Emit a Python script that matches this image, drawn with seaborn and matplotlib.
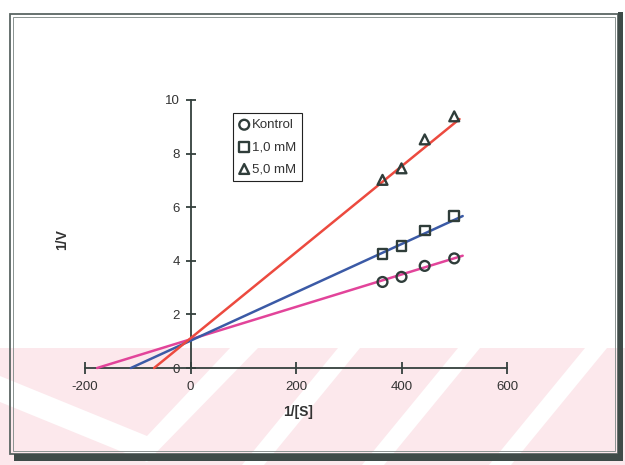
import numpy as np
import pandas as pd
import matplotlib
matplotlib.use("Agg")
import matplotlib.pyplot as plt
import seaborn as sns
from matplotlib.patches import Polygon, Rectangle

# ---------------- data ----------------
inv_s = [364, 400, 444, 500]                 # 1/[S]
inv_v_kontrol = [3.21, 3.40, 3.81, 4.09]     # 1/V, Kontrol
inv_v_1mM = [4.26, 4.54, 5.13, 5.67]         # 1/V, 1,0 mM
inv_v_5mM = [7.02, 7.45, 8.53, 9.39]         # 1/V, 5,0 mM
groups = ["Kontrol", "1,0 mM", "5,0 mM"]

# regression lines, endpoints as drawn in the picture
fit_x_kontrol = [-177, 516]
fit_y_kontrol = [0.0, 4.19]
fit_x_1mM = [-113, 516]
fit_y_1mM = [0.0, 5.67]
fit_x_5mM = [-69, 510]
fit_y_5mM = [0.0, 9.29]

x_ticks = [-200, 0, 200, 400, 600]
y_ticks = [0, 2, 4, 6, 8, 10]
x_label = "1/[S]"
y_label = "1/V"

# ---------------- style ----------------
sns.set_style("white")
plt.rcParams["font.family"] = ["Liberation Sans", "DejaVu Sans"]

W, H = 625, 465
AX_COL = "#34403d"
TXT_COL = "#333333"
MK_COL = "#2f3d3a"
line_colors = ["#e2449a", "#3b5aa6", "#ec4a3f"]
markers = ["o", "s", "^"]

def fp(x, y):
    return (x / W, 1 - y / H)

fig = plt.figure(figsize=(W / 100, H / 100), dpi=100)
fig.patch.set_facecolor("white")

# scanned-page background: pale pink band with white diagonal stripes
pink = Polygon([fp(0, 348), fp(W, 348), fp(W, H), fp(0, H)], closed=True,
               transform=fig.transFigure, facecolor="#fce8ec", edgecolor="none", zorder=-3)
fig.add_artist(pink)
white_polys = [
    [(0, 376), (147, 436), (230, 348), (258, 348), (147, 462), (0, 402)],
]
for a in [338, 458, 585]:
    white_polys.append([(a, 348), (a + 22, 348), (a - 74, 465), (a - 96, 465)])
for poly in white_polys:
    fig.add_artist(Polygon([fp(*p) for p in poly], closed=True, transform=fig.transFigure,
                           facecolor="white", edgecolor="none", zorder=-2))

# page frame
fig.add_artist(Rectangle(fp(10, 454), 608 / W, 440 / H, fill=False, edgecolor="#5b6663",
                         linewidth=1.3, transform=fig.transFigure, zorder=5))
fig.add_artist(Rectangle(fp(13, 451), 602 / W, 434 / H, fill=False, edgecolor="#8a9391",
                         linewidth=0.7, transform=fig.transFigure, zorder=5))
fig.add_artist(Polygon([fp(14, 454), fp(623, 454), fp(623, 461), fp(14, 461)], closed=True,
                       transform=fig.transFigure, facecolor="#3f4b48", edgecolor="none", zorder=5))
fig.add_artist(Polygon([fp(618, 12), fp(623, 12), fp(623, 461), fp(618, 461)], closed=True,
                       transform=fig.transFigure, facecolor="#3f4b48", edgecolor="none", zorder=5))

# axes: x from -200..600 at px 85..507, y 0..10 at px 368..100
ax = fig.add_axes([85 / W, (H - 368) / H, 422 / W, 268 / H])
ax.patch.set_alpha(0)

fits = [(fit_x_kontrol, fit_y_kontrol), (fit_x_1mM, fit_y_1mM), (fit_x_5mM, fit_y_5mM)]
vals = [inv_v_kontrol, inv_v_1mM, inv_v_5mM]

for (fx, fy), col in zip(fits, line_colors):
    sns.lineplot(x=fx, y=fy, color=col, linewidth=1.8, ax=ax, legend=False)
for ln in ax.lines:
    ln.set_clip_on(False)
    ln.set_zorder(2)

for g, v, m in zip(groups, vals, markers):
    sns.scatterplot(x=inv_s, y=v, marker=m, s=50, facecolor="none", edgecolor=MK_COL,
                    linewidth=1.7, ax=ax, label=g, zorder=3, clip_on=False)
for coll in ax.collections:
    coll.set_facecolor("none")
    coll.set_edgecolor(MK_COL)

ax.set_xlim(-200, 600)
ax.set_ylim(0, 10)
ax.set_xticks(x_ticks)
ax.set_yticks(y_ticks)
ax.set_xticklabels([str(t) for t in x_ticks])
ax.set_yticklabels([str(t) for t in y_ticks])

for s in ["top", "right"]:
    ax.spines[s].set_visible(False)
ax.spines["left"].set_position(("data", 0))
ax.spines["bottom"].set_position(("data", 0))
for s in ["left", "bottom"]:
    ax.spines[s].set_color(AX_COL)
    ax.spines[s].set_linewidth(1.3)
    ax.spines[s].set_zorder(1)

ax.tick_params(axis="x", bottom=True, direction="inout", length=9, width=1.3, pad=5,
               labelsize=9.5, colors=AX_COL, labelcolor=TXT_COL)
ax.tick_params(axis="y", left=True, direction="inout", length=7, width=1.3, pad=4,
               labelsize=9.5, colors=AX_COL, labelcolor=TXT_COL)

ax.set_xlabel(x_label, fontsize=10, fontweight="bold", color=TXT_COL)
ax.set_ylabel(y_label, fontsize=10, fontweight="bold", color=TXT_COL)
ax.xaxis.set_label_coords((298 - 85) / 422, (368 - 405) / 268)
ax.yaxis.set_label_coords((69 - 85) / 422, (368 - 240) / 268)

leg = ax.legend(loc="upper left", bbox_to_anchor=((233 - 85) / 422, (368 - 113) / 268),
                borderaxespad=0, fontsize=9.5, frameon=True, fancybox=False, framealpha=1,
                handlelength=0.8, handletextpad=0.2, borderpad=0.45, labelspacing=0.75,
                scatterpoints=1, edgecolor="#222222")
leg.get_frame().set_linewidth(0.8)
for t in leg.get_texts():
    t.set_color(TXT_COL)

fig.savefig("out.png", dpi=100)
